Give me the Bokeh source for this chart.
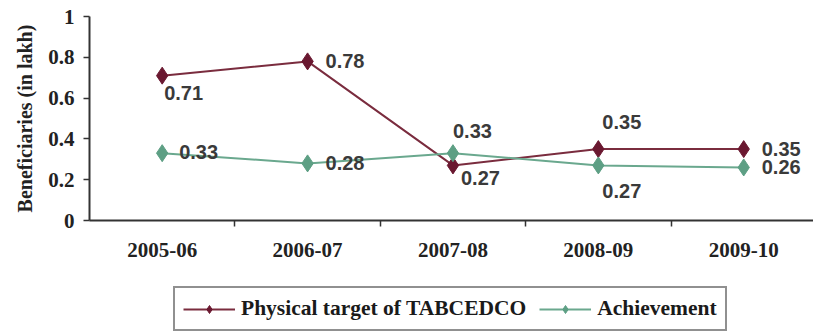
from bokeh.plotting import figure
from bokeh.layouts import column
from bokeh.models import (Range1d, FixedTicker, Legend, LegendItem, ColumnDataSource,
                          LabelSet)
from bokeh.core.properties import value
from bokeh.embed import file_html
from bokeh.resources import INLINE

# Beneficiaries (in lakh) by year
years = ["2005-06", "2006-07", "2007-08", "2008-09", "2009-10"]
target = [0.71, 0.78, 0.27, 0.35, 0.35]
achievement = [0.33, 0.28, 0.33, 0.27, 0.26]
y_ticks = [0, 0.2, 0.4, 0.6, 0.8, 1]
series_names = ["Physical target of TABCEDCO", "Achievement"]

# pixel offsets for the value labels of each series
target_dx = [2, 18, 8, 4, 18]
target_dy = [-17, 0, -13, 27, 0]
ach_dx = [17, 18, 0, 4, 18]
ach_dy = [1, 0, 22, -26, 0]

MAROON = "#6a1830"
MAROON_LINE = "#7a2c3e"
GREEN = "#5d9f84"
GREEN_LINE = "#6aa88e"
SERIF = "Liberation Serif"
SANS = "Liberation Sans"

xs = list(range(len(years)))

p = figure(width=813, height=270, output_backend="svg", toolbar_location=None,
           x_range=Range1d(-0.5, 4.48), y_range=Range1d(0, 1),
           min_border_left=89, min_border_top=16, min_border_right=0,
           min_border_bottom=50)
p.outline_line_color = None
p.grid.grid_line_color = None
p.background_fill_color = "white"
p.border_fill_color = "white"

# x axis: labels at category centres, ticks at category boundaries
xa = p.xaxis[0]
xa.ticker = FixedTicker(ticks=xs, minor_ticks=[0.5, 1.5, 2.5, 3.5])
xa.major_label_overrides = {i: y for i, y in enumerate(years)}
xa.major_tick_line_color = None
xa.major_tick_out = 6
xa.major_tick_in = 0
xa.minor_tick_out = 6
xa.minor_tick_in = 0
xa.minor_tick_line_color = "#333333"
xa.minor_tick_line_width = 1.5
xa.axis_line_color = "#333333"
xa.axis_line_width = 2
xa.major_label_text_font = SERIF
xa.major_label_text_font_style = "bold"
xa.major_label_text_font_size = "21px"
xa.major_label_text_color = "#222222"
xa.major_label_standoff = 16

ya = p.yaxis[0]
ya.ticker = FixedTicker(ticks=y_ticks, minor_ticks=[])
ya.major_label_overrides = {0: "0", 1: "1", 0.2: "0.2", 0.4: "0.4", 0.6: "0.6", 0.8: "0.8"}
ya.major_tick_out = 6
ya.major_tick_in = 0
ya.major_tick_line_color = "#333333"
ya.major_tick_line_width = 1.5
ya.axis_line_color = "#333333"
ya.axis_line_width = 2
ya.major_label_text_font = SERIF
ya.major_label_text_font_style = "bold"
ya.major_label_text_font_size = "21px"
ya.major_label_text_color = "#222222"
ya.major_label_standoff = 9
ya.axis_label = "Beneficiaries (in lakh)"
ya.axis_label_text_font = SERIF
ya.axis_label_text_font_style = "bold"
ya.axis_label_text_font_size = "20px"
ya.axis_label_text_color = "#222222"
ya.axis_label_standoff = 9

src_t = ColumnDataSource(dict(x=xs, y=target, lbl=[f"{v:.2f}" for v in target],
                              dx=target_dx, dy=target_dy))
src_a = ColumnDataSource(dict(x=xs, y=achievement, lbl=[f"{v:.2f}" for v in achievement],
                              dx=ach_dx, dy=ach_dy))

p.line("x", "y", source=src_t, line_color=MAROON_LINE, line_width=2)
p.scatter("x", "y", source=src_t, marker="diamond", size=17,
          fill_color=MAROON, line_color=MAROON)
p.line("x", "y", source=src_a, line_color=GREEN_LINE, line_width=2)
p.scatter("x", "y", source=src_a, marker="diamond", size=17,
          fill_color=GREEN, line_color=GREEN)

for src in (src_t, src_a):
    labels = LabelSet(x="x", y="y", text="lbl", source=src, x_offset="dx", y_offset="dy",
                      text_align="left", text_baseline="middle",
                      text_font=value(SANS), text_font_style="bold",
                      text_font_size="20px", text_color="#3a3a3a")
    p.add_layout(labels)

# legend strip under the chart; its series renderers lie outside the strip's view,
# so only the legend box itself shows
leg = figure(width=813, height=62, output_backend="svg", toolbar_location=None,
             x_range=Range1d(-20, -19), y_range=Range1d(-20, -19),
             x_axis_type=None, y_axis_type=None,
             min_border_left=89, min_border_right=0, min_border_top=0, min_border_bottom=0)
leg.outline_line_color = None
leg.grid.grid_line_color = None

items = []
for name, src, line_c, mark_c in zip(series_names, [src_t, src_a],
                                     [MAROON_LINE, GREEN_LINE], [MAROON, GREEN]):
    r1 = leg.line("x", "y", source=src, line_color=line_c, line_width=2)
    r2 = leg.scatter("x", "y", source=src, marker="diamond", size=13,
                     fill_color=mark_c, line_color=mark_c)
    items.append(LegendItem(label=name, renderers=[r1, r2]))

legend = Legend(items=items, orientation="horizontal", location=(84, 1))
legend.label_text_font = SERIF
legend.label_text_font_style = "bold"
legend.label_text_font_size = "21.5px"
legend.label_text_color = "#1a1a1a"
legend.glyph_width = 52
legend.glyph_height = 20
legend.label_standoff = 6
legend.spacing = 13
legend.padding = 8
legend.margin = 0
legend.border_line_color = "#222222"
legend.border_line_width = 2
legend.background_fill_color = "white"
leg.add_layout(legend)

layout = column(p, leg, spacing=0)
open("out.html", "w").write(file_html(layout, INLINE))
